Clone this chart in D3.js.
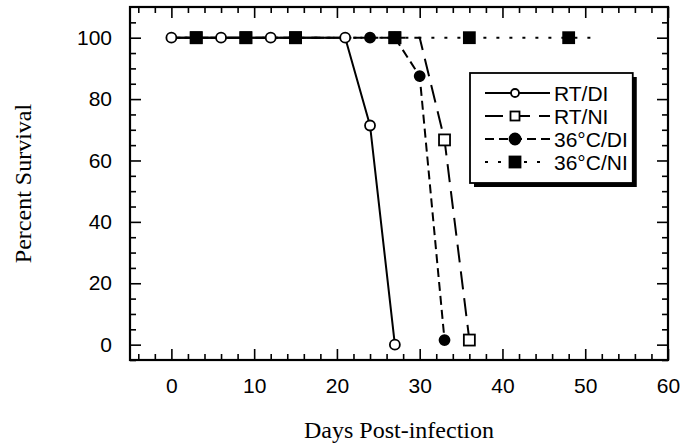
<!DOCTYPE html>
<html>
<head>
<meta charset="utf-8">
<script src="https://cdn.jsdelivr.net/npm/d3@7"></script>
<style>
  body { margin: 0; background: #fff; }
  svg { display: block; }
  .tick text { font-family: "Liberation Sans", Arial, sans-serif; font-size: 21px; fill: #000; }
  .tick line { stroke: #000; stroke-width: 1.6; }
</style>
</head>
<body>
<div id="chart"></div>
<script>
// survival data
const rtdiDays = [0, 6, 12, 21, 24, 27];
const rtdiPct  = [100, 100, 100, 100, 71.4, 0];
const rtdiMark = [1, 1, 1, 1, 1, 1];

const rtniDays = [0, 3, 9, 15, 27, 30, 33, 36];
const rtniPct  = [100, 100, 100, 100, 100, 100, 66.7, 1.5];
const rtniMark = [0, 1, 1, 1, 1, 0, 1, 1];

const hotdiDays = [0, 24, 27, 30, 33];
const hotdiPct  = [100, 100, 100, 87.5, 1.5];
const hotdiMark = [0, 1, 1, 1, 1];

const hotniDays = [0, 3, 9, 15, 27, 36, 48, 51];
const hotniPct  = [100, 100, 100, 100, 100, 100, 100, 100];
const hotniMark = [0, 1, 1, 1, 1, 1, 1, 0];

const seriesNames = ["RT/DI", "RT/NI", "36°C/DI", "36°C/NI"];

const xMajor = [0, 10, 20, 30, 40, 50, 60];
const yMajor = [0, 20, 40, 60, 80, 100];

const width = 694, height = 448;
const margin = { top: 7, right: 26, bottom: 88, left: 130 };

const svg = d3.select("#chart").append("svg")
    .attr("width", width)
    .attr("height", height);

const x = d3.scaleLinear().domain([-5, 60]).range([margin.left, width - margin.right]);
const y = d3.scaleLinear().domain([-5, 110]).range([height - margin.bottom, margin.top]);

const styles = {
    "RT/DI":   { dash: null,   marker: "circle", fill: "#fff" },
    "RT/NI":   { dash: "18,9", marker: "square", fill: "#fff" },
    "36°C/DI": { dash: "9,5",  marker: "circle", fill: "#000" },
    "36°C/NI": { dash: "3,10", marker: "square", fill: "#000" }
};

function build(name, days, pct, mark) {
    return { name: name, pts: days.map((d, i) => ({ day: d, pct: pct[i], mark: mark[i] })) };
}
const series = [
    build("RT/DI", rtdiDays, rtdiPct, rtdiMark),
    build("RT/NI", rtniDays, rtniPct, rtniMark),
    build("36°C/DI", hotdiDays, hotdiPct, hotdiMark),
    build("36°C/NI", hotniDays, hotniPct, hotniMark)
];

// axes, ticks pointing inward on all four sides
const xMinor = d3.range(-4, 60, 2).filter(v => v % 10 !== 0);
const yMinor = d3.range(-5, 110, 5).filter(v => v % 20 !== 0);
const x0 = height - margin.bottom, x1 = margin.top;
const y0 = margin.left, y1 = width - margin.right;

svg.append("g").attr("transform", `translate(0,${x0})`)
    .call(d3.axisBottom(x).tickValues(xMajor).tickSize(-11).tickPadding(18))
    .call(g => g.select(".domain").remove());
svg.append("g").attr("transform", `translate(0,${x0})`)
    .call(d3.axisBottom(x).tickValues(xMinor).tickSize(-6).tickFormat(""))
    .call(g => g.select(".domain").remove());
svg.append("g").attr("transform", `translate(0,${x1})`)
    .call(d3.axisTop(x).tickValues(xMajor).tickSize(-11).tickFormat(""))
    .call(g => g.select(".domain").remove());
svg.append("g").attr("transform", `translate(0,${x1})`)
    .call(d3.axisTop(x).tickValues(xMinor).tickSize(-6).tickFormat(""))
    .call(g => g.select(".domain").remove());

svg.append("g").attr("transform", `translate(${y0},0)`)
    .call(d3.axisLeft(y).tickValues(yMajor).tickSize(-11).tickPadding(18))
    .call(g => g.select(".domain").remove());
svg.append("g").attr("transform", `translate(${y0},0)`)
    .call(d3.axisLeft(y).tickValues(yMinor).tickSize(-6).tickFormat(""))
    .call(g => g.select(".domain").remove());
svg.append("g").attr("transform", `translate(${y1},0)`)
    .call(d3.axisRight(y).tickValues(yMajor).tickSize(-11).tickFormat(""))
    .call(g => g.select(".domain").remove());
svg.append("g").attr("transform", `translate(${y1},0)`)
    .call(d3.axisRight(y).tickValues(yMinor).tickSize(-6).tickFormat(""))
    .call(g => g.select(".domain").remove());

svg.append("rect")
    .attr("x", y0).attr("y", x1)
    .attr("width", y1 - y0).attr("height", x0 - x1)
    .attr("fill", "none")
    .attr("stroke", "#000")
    .attr("stroke-width", 2.2);

// axis titles
svg.append("text")
    .attr("x", (y0 + y1) / 2)
    .attr("y", 438)
    .attr("text-anchor", "middle")
    .style("font-family", "'Liberation Serif', 'Times New Roman', serif")
    .style("font-size", "24px")
    .text("Days Post-infection");

svg.append("text")
    .attr("transform", `translate(31,${(x0 + x1) / 2}) rotate(-90)`)
    .attr("text-anchor", "middle")
    .style("font-family", "'Liberation Serif', 'Times New Roman', serif")
    .style("font-size", "24px")
    .text("Percent Survival");

// lines
const line = d3.line().x(d => x(d.day)).y(d => y(d.pct));
series.forEach(s => {
    svg.append("path")
        .datum(s.pts)
        .attr("d", line)
        .attr("fill", "none")
        .attr("stroke", "#000")
        .attr("stroke-width", 2)
        .attr("stroke-dasharray", styles[s.name].dash);
});

function drawMarker(g, kind, fill, cx, cy, size) {
    if (kind === "circle") {
        g.append("circle")
            .attr("cx", cx).attr("cy", cy).attr("r", size / 2)
            .attr("fill", fill).attr("stroke", "#000").attr("stroke-width", 1.8);
    } else {
        g.append("rect")
            .attr("x", cx - size / 2).attr("y", cy - size / 2)
            .attr("width", size).attr("height", size)
            .attr("fill", fill).attr("stroke", "#000").attr("stroke-width", 1.8);
    }
}

// markers, filled squares last so they sit on top
const order = ["36°C/DI", "RT/NI", "RT/DI", "36°C/NI"];
const mg = svg.append("g");
order.forEach(n => {
    const s = series.find(t => t.name === n);
    const st = styles[n];
    s.pts.filter(p => p.mark).forEach(p => {
        const sz = st.marker === "circle" ? 10 : 11;
        drawMarker(mg, st.marker, st.fill, x(p.day), y(p.pct), sz);
    });
});

// legend
const lg = svg.append("g");
const lx = 470, ly = 73, rowH = 23;
const items = lg.append("g");
seriesNames.forEach((n, i) => {
    const st = styles[n];
    const cy = ly + 20 + i * rowH;
    items.append("line")
        .attr("x1", lx + 15).attr("x2", lx + 80)
        .attr("y1", cy).attr("y2", cy)
        .attr("stroke", "#000").attr("stroke-width", 2)
        .attr("stroke-dasharray", st.dash);
    const sz = st.marker === "circle" ? (st.fill === "#000" ? 11 : 8) : (st.fill === "#000" ? 11 : 9);
    drawMarker(items, st.marker, st.fill, lx + 45, cy, sz);
    items.append("text")
        .attr("x", lx + 84).attr("y", cy)
        .attr("dy", "0.36em")
        .style("font-family", "'Liberation Sans', Arial, sans-serif")
        .style("font-size", "21px")
        .text(n);
});
const bb = items.node().getBBox();
const boxW = bb.x + bb.width + 5 - lx, boxH = 110;
lg.insert("rect", ":first-child")
    .attr("x", lx).attr("y", ly)
    .attr("width", boxW).attr("height", boxH)
    .attr("fill", "#fff").attr("stroke", "#000").attr("stroke-width", 1.8);
lg.insert("rect", ":first-child")
    .attr("x", lx + 4).attr("y", ly + 4)
    .attr("width", boxW).attr("height", boxH)
    .attr("fill", "#000");
</script>
</body>
</html>
